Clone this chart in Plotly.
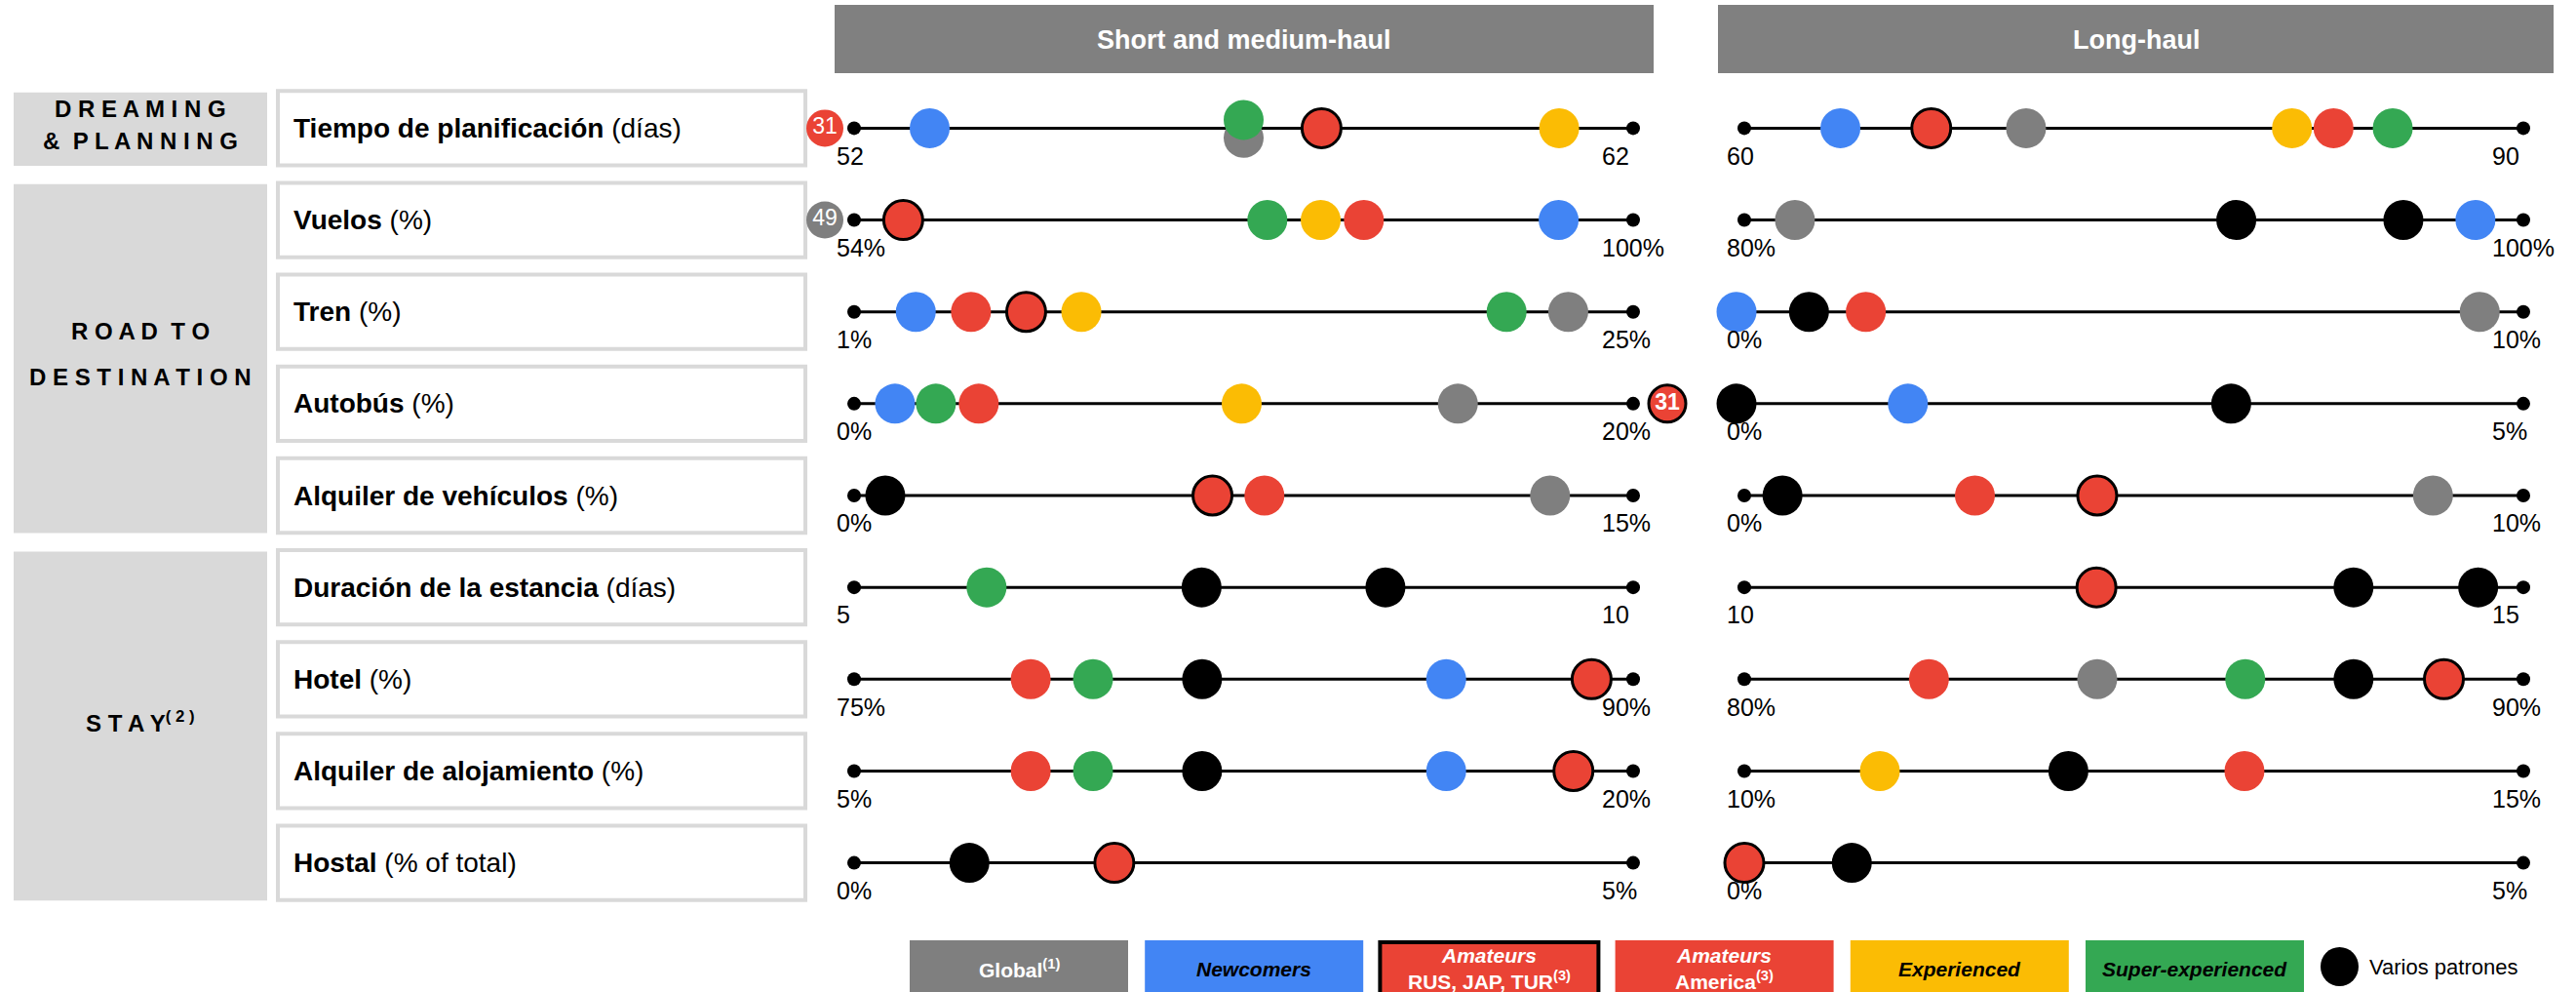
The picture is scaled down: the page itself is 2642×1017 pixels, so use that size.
import plotly.graph_objects as go

W, H = 2642, 1017

# ---------------- data ----------------
ROW_NAMES = ["Tiempo de planificación", "Vuelos", "Tren", "Autobús", "Alquiler de vehículos",
             "Duración de la estancia", "Hotel", "Alquiler de alojamiento", "Hostal"]
ROW_UNITS = ["(días)", "(%)", "(%)", "(%)", "(%)", "(días)", "(%)", "(%)", "(% of total)"]

SP = " "               # letter spacing
WSP = " \u00a0"        # word spacing
GROUP_WORDS = [["DREAMING", "& PLANNING"], ["ROAD TO", "DESTINATION"], ["STAY"]]
GROUP_SUP = ["", "", "(2)"]
GROUP_ROWS = [(0, 0), (1, 4), (5, 8)]

PANEL_TITLES = ["Short and medium-haul", "Long-haul"]

SHORT_MIN = [52, 54, 1, 0, 0, 5, 75, 5, 0]
SHORT_MAX = [62, 100, 25, 20, 15, 10, 90, 20, 5]
SHORT_MIN_LABEL = ["52", "54%", "1%", "0%", "0%", "5", "75%", "5%", "0%"]
SHORT_MAX_LABEL = ["62", "100%", "25%", "20%", "15%", "10", "90%", "20%", "5%"]

LONG_MIN = [60, 80, 0, 0, 0, 10, 80, 10, 0]
LONG_MAX = [90, 100, 10, 5, 10, 15, 90, 15, 5]
LONG_MIN_LABEL = ["60", "80%", "0%", "0%", "0%", "10", "80%", "10%", "0%"]
LONG_MAX_LABEL = ["90", "100%", "10%", "5%", "10%", "15", "90%", "15%", "5%"]

SEGMENTS = ["Global", "Newcomers", "Amateurs RUS, JAP, TUR", "Amateurs America",
            "Experienced", "Super-experienced"]

# short and medium-haul values per row (None = not shown)
SHORT_GLOBAL = [57.0, 49, 23.0, 15.5, 13.4, None, None, None, None]
SHORT_NEWCOMERS = [52.97, 95.6, 2.9, 1.05, None, None, 86.4, 16.4, None]
SHORT_AMAT_RUS = [58.0, 56.9, 6.3, 31, 6.9, None, 89.2, 18.85, 1.67]
SHORT_AMAT_AMERICA = [31, 84.1, 4.6, 3.2, 7.9, None, 78.4, 8.4, None]
SHORT_EXPERIENCED = [61.05, 81.55, 8.0, 9.95, None, None, None, None, None]
SHORT_SUPER = [57.0, 78.4, 21.1, 2.1, None, 5.85, 79.6, 9.6, None]
SHORT_VARIOS = [[], [], [], [], [0.6], [7.23, 8.41], [81.7], [11.7], [0.74]]

# long-haul values per row
LONG_GLOBAL = [70.85, 81.3, 9.44, None, 8.84, None, 84.53, None, None]
LONG_NEWCOMERS = [63.7, 98.77, -0.1, 1.05, None, None, None, None, None]
LONG_AMAT_RUS = [67.2, None, None, None, 4.53, 12.26, 88.98, None, 0.0]
LONG_AMAT_AMERICA = [82.69, None, 1.56, None, 2.96, None, 82.37, 13.21, None]
LONG_EXPERIENCED = [81.09, None, None, None, None, None, None, 10.87, None]
LONG_SUPER = [84.97, None, None, None, None, None, 86.43, None, None]
LONG_VARIOS = [[], [92.63, 96.92], [0.83], [-0.05, 3.125], [0.49], [13.91, 14.71], [87.82], [12.08], [0.69]]

LEGEND_LABELS = ["<b>Global<sup>(1)</sup></b>", "<b><i>Newcomers</i></b>",
                 "<b><i>Amateurs</i><br>RUS, JAP, TUR<sup>(3)</sup></b>",
                 "<b><i>Amateurs</i><br>America<sup>(3)</sup></b>",
                 "<b><i>Experienced</i></b>", "<b><i>Super-experienced</i></b>"]
LEGEND_VARIOS = "Varios patrones"

# ---------------- style ----------------
GRAY, BLUE, RED, YELLOW, GREEN, BLACK = "#7F7F7F", "#4285F4", "#EA4335", "#FBBC04", "#34A853", "#000000"
SEG_COLORS = [GRAY, BLUE, RED, RED, YELLOW, GREEN]
SEG_BORDER = [False, False, True, False, False, False]
LEG_TEXT = ["white", "black", "white", "white", "black", "black"]

FONT = "Liberation Sans Narrow, Arial Narrow, Liberation Sans, Arial, sans-serif"
FONT_WIDE = "Liberation Sans, Arial, sans-serif"

LINE_X = [(876, 1675), (1789, 2588)]
AX_PAD = 90  # extra axis room (px) beside the line so off-scale dots stay visible
HEADER_X = [(856, 1696), (1762, 2619)]
HEADER_Y = (5, 75)
ROW0_PX, ROW_STEP = 131.4, 94.15
Y_TOP = -ROW0_PX / ROW_STEP
Y_BOT = Y_TOP + H / ROW_STEP


def px(xp):
    return xp / W


def py(yp):
    return 1 - yp / H


def spaced(text):
    return WSP.join(SP.join(list(w)) for w in text.split(" "))


panels = [
    dict(mn=SHORT_MIN, mx=SHORT_MAX, lmn=SHORT_MIN_LABEL, lmx=SHORT_MAX_LABEL,
         series=[SHORT_GLOBAL, SHORT_NEWCOMERS, SHORT_AMAT_RUS, SHORT_AMAT_AMERICA,
                 SHORT_EXPERIENCED, SHORT_SUPER], varios=SHORT_VARIOS),
    dict(mn=LONG_MIN, mx=LONG_MAX, lmn=LONG_MIN_LABEL, lmx=LONG_MAX_LABEL,
         series=[LONG_GLOBAL, LONG_NEWCOMERS, LONG_AMAT_RUS, LONG_AMAT_AMERICA,
                 LONG_EXPERIENCED, LONG_SUPER], varios=LONG_VARIOS),
]

fig = go.Figure()
layout_axes = {}
annotations = []
shapes = []

# headers
for p, title in enumerate(PANEL_TITLES):
    x0, x1 = HEADER_X[p]
    shapes.append(dict(type="rect", xref="paper", yref="paper", x0=px(x0), x1=px(x1),
                       y0=py(HEADER_Y[1]), y1=py(HEADER_Y[0]), fillcolor="#808080", line_width=0,
                       layer="below"))
    annotations.append(dict(xref="paper", yref="paper", x=px((x0 + x1) / 2), y=py(41),
                            text=f"<b>{title}</b>", showarrow=False, xanchor="center", yanchor="middle",
                            font=dict(family=FONT, size=27, color="white")))

# group boxes
for g, (r0, r1) in enumerate(GROUP_ROWS):
    shapes.append(dict(type="rect", xref="paper", yref="y", x0=px(14), x1=px(274),
                       y0=r0 - 0.39, y1=r1 + 0.41, fillcolor="#D9D9D9", line_width=0, layer="below"))
    words = GROUP_WORDS[g]
    center = (r0 - 0.39 + r1 + 0.41) / 2 - 0.05
    gap = 0.35 if len(words) == 2 and r1 == r0 else 0.49
    n = len(words)
    for k, t in enumerate(words):
        yy = center + (k - (n - 1) / 2) * gap
        txt = f"<b>{spaced(t)}</b>"
        if GROUP_SUP[g] and k == n - 1:
            txt += f"<b><sup>{' '.join(list(GROUP_SUP[g]))}</sup></b>"
        annotations.append(dict(xref="paper", yref="y", x=px(144), y=yy, text=txt,
                                showarrow=False, xanchor="center", yanchor="middle",
                                font=dict(family=FONT_WIDE, size=24, color="black")))

# row label boxes
for i, (nm, un) in enumerate(zip(ROW_NAMES, ROW_UNITS)):
    shapes.append(dict(type="rect", xref="paper", yref="y", x0=px(285), x1=px(826),
                       y0=i - 0.405, y1=i + 0.405, fillcolor="white",
                       line=dict(color="#D9D9D9", width=4), layer="below"))
    annotations.append(dict(xref="paper", yref="y", x=px(299), y=i, text=f"<b>{nm}</b> {un}",
                            showarrow=False, xanchor="left", yanchor="middle",
                            font=dict(family=FONT, size=28, color="black")))

# dumbbell rows
ax = 0
for p, pan in enumerate(panels):
    x0, x1 = LINE_X[p]
    pad_l = min(AX_PAD, x0 - 1)
    pad_r = min(AX_PAD, W - x1 - 1)
    for i in range(len(ROW_NAMES)):
        ax += 1
        aname = "xaxis" if ax == 1 else f"xaxis{ax}"
        aref = "x" if ax == 1 else f"x{ax}"
        lo, hi = pan["mn"][i], pan["mx"][i]
        ppu = (x1 - x0) / (hi - lo)
        layout_axes[aname] = dict(domain=[px(x0 - pad_l), px(x1 + pad_r)],
                                  range=[lo - pad_l / ppu, hi + pad_r / ppu], visible=False,
                                  anchor="y", fixedrange=True)
        # base line with end dots
        fig.add_trace(go.Scatter(x=[lo, hi], y=[i, i], xaxis=aref, yaxis="y", mode="lines+markers",
                                 line=dict(color=BLACK, width=3), marker=dict(size=14, color=BLACK),
                                 cliponaxis=False, showlegend=False, hoverinfo="skip"))
        annotations.append(dict(xref=aref, yref="y", x=lo, y=i + 0.30, xshift=-20, text=pan["lmn"][i],
                                showarrow=False, xanchor="left", yanchor="middle",
                                font=dict(family=FONT, size=25, color="black")))
        annotations.append(dict(xref=aref, yref="y", x=hi, y=i + 0.30, xshift=-34, text=pan["lmx"][i],
                                showarrow=False, xanchor="left", yanchor="middle",
                                font=dict(family=FONT, size=25, color="black")))
        # detect coincident values for vertical spread
        vals = [(s, pan["series"][s][i]) for s in range(len(SEGMENTS)) if pan["series"][s][i] is not None]
        offsets = {}
        for a in range(len(vals)):
            for b in range(a + 1, len(vals)):
                if abs(vals[a][1] - vals[b][1]) < 1e-9:
                    offsets[vals[a][0]] = 0.105
                    offsets[vals[b][0]] = -0.09
        for s, v in vals:
            txt = None
            xd = v
            size = 40 if SEG_BORDER[s] else 41
            if v < lo - 1:
                xd = lo - 30 / ppu
                txt = f"{v:g}"
                size = 38
            elif v > hi + 1:
                xd = hi + 35 / ppu
                txt = f"<b>{v:g}</b>"
                size = 38
            fig.add_trace(go.Scatter(
                x=[xd], y=[i + offsets.get(s, 0)], xaxis=aref, yaxis="y",
                mode="markers+text" if txt else "markers",
                text=[txt] if txt else None, textposition="middle center",
                textfont=dict(family=FONT, size=23, color="white"),
                marker=dict(size=size, color=SEG_COLORS[s],
                            line=dict(color=BLACK, width=3 if SEG_BORDER[s] else 0)),
                cliponaxis=False, showlegend=False, name=SEGMENTS[s], hoverinfo="x+name"))
        if pan["varios"][i]:
            fig.add_trace(go.Scatter(x=pan["varios"][i], y=[i] * len(pan["varios"][i]), xaxis=aref,
                                     yaxis="y", mode="markers", marker=dict(size=41, color=BLACK),
                                     cliponaxis=False, showlegend=False, name=LEGEND_VARIOS,
                                     hoverinfo="x+name"))

# legend (drawn manually as coloured boxes)
LEG_X0, LEG_W, LEG_STEP = 933, 224, 241.2
for k, lab in enumerate(LEGEND_LABELS):
    bx0 = LEG_X0 + k * LEG_STEP
    shapes.append(dict(type="rect", xref="paper", yref="paper", x0=px(bx0), x1=px(bx0 + LEG_W),
                       y0=py(1030), y1=py(964 if not SEG_BORDER[k] else 966), fillcolor=SEG_COLORS[k],
                       line=dict(color=BLACK, width=4) if SEG_BORDER[k] else dict(width=0)))
    annotations.append(dict(xref="paper", yref="paper", x=px(bx0 + LEG_W / 2), y=py(993), text=lab,
                            showarrow=False, xanchor="center", yanchor="middle",
                            font=dict(family=FONT, size=21, color=LEG_TEXT[k])))
shapes.append(dict(type="circle", xref="paper", yref="paper", x0=px(2380), x1=px(2419),
                   y0=py(1011), y1=py(971), fillcolor=BLACK, line_width=0))
annotations.append(dict(xref="paper", yref="paper", x=px(2428), y=py(991), text=LEGEND_VARIOS,
                        showarrow=False, xanchor="left", yanchor="middle",
                        font=dict(family=FONT, size=22, color="black")))

fig.update_layout(
    width=W, height=H, margin=dict(l=0, r=0, t=0, b=0),
    paper_bgcolor="white", plot_bgcolor="rgba(0,0,0,0)",
    yaxis=dict(domain=[0, 1], range=[Y_BOT, Y_TOP], visible=False, fixedrange=True),
    shapes=shapes, annotations=annotations, showlegend=False,
    font=dict(family=FONT),
    **layout_axes,
)

fig.write_html("out.html", post_script="document.body.style.margin='0';document.body.style.overflow='hidden';")
